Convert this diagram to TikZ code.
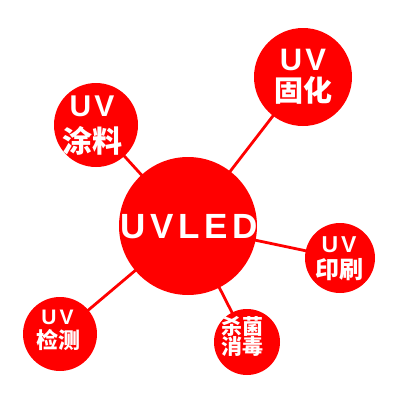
\documentclass[tikz,border=0pt]{standalone}
\usepackage{fontspec}
\setmainfont{Liberation Sans}
\newfontfamily\cjk{Noto Sans CJK SC}
\tikzset{
  bub/.style={circle,fill=red,draw=none,inner sep=0pt},
  link/.style={draw=red,line width=2.8pt},
  txt/.style={text=white,inner sep=0pt,align=center,font=\bfseries}
}
\newcommand{\ls}[1]{\hspace{#1}}
\begin{document}
\begin{tikzpicture}[x=1pt,y=-1pt]
\useasboundingbox (0,0) rectangle (400,400);
\coordinate (c) at (188,226);
\coordinate (a1) at (303,77);
\coordinate (a2) at (96,125);
\coordinate (a3) at (340,258);
\coordinate (a4) at (247,342);
\coordinate (a5) at (60,334);
\draw[link] (c) -- (a1);
\draw[link] (c) -- (a2);
\draw[link] (c) -- (a3);
\draw[link] (c) -- (a4);
\draw[link] (c) -- (a5);
\node[bub,minimum size=138] (n0) at (c) {};
\node[bub,minimum size=98] (n1) at (a1) {};
\node[bub,minimum size=84] (n2) at (a2) {};
\node[bub,minimum size=70] (n3) at (a3) {};
\node[bub,minimum size=66] (n4) at (a4) {};
\node[bub,minimum size=74] (n5) at (a5) {};
% texts
\node[txt,font=\bfseries\fontsize{35}{35}\selectfont] (t0) at (189,227) {U\ls{4.5pt}V\ls{4.5pt}L\ls{4.5pt}E\ls{4.5pt}D};
\node[txt,font=\bfseries\fontsize{31}{31}\selectfont] (t1a) at (303,60) {U\ls{3pt}V};
\node[txt,font=\cjk\bfseries\fontsize{29}{29}\selectfont] (t1b) at (303,90) {固化};
\node[txt,font=\bfseries\fontsize{30}{30}\selectfont] (t2a) at (92,106) {U\ls{3pt}V};
\node[txt,font=\cjk\bfseries\fontsize{30}{30}\selectfont] (t2b) at (92.5,141) {涂料};
\node[txt,font=\bfseries\fontsize{23}{23}\selectfont] (t3a) at (339,245) {U\ls{3pt}V};
\node[txt,font=\cjk\bfseries\fontsize{24}{24}\selectfont] (t3b) at (339,270) {印刷};
\node[txt,font=\cjk\bfseries\fontsize{21}{21}\selectfont] (t4a) at (243,326) {杀菌};
\node[txt,font=\cjk\bfseries\fontsize{21}{21}\selectfont] (t4b) at (243,346) {消毒};
\node[txt,font=\bfseries\fontsize{21}{21}\selectfont] (t5a) at (57.5,317) {U\ls{3pt}V};
\node[txt,font=\cjk\bfseries\fontsize{22}{22}\selectfont] (t5b) at (59,340) {检测};
\end{tikzpicture}
\end{document}
